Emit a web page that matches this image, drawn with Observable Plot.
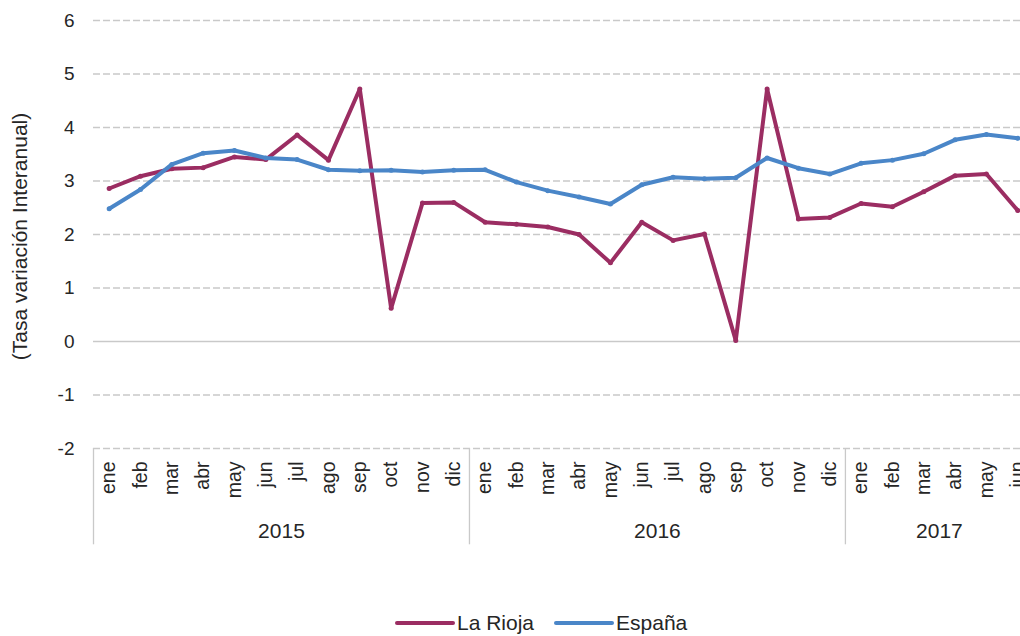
<!DOCTYPE html>
<html>
<head>
<meta charset="utf-8">
<script src="https://cdn.jsdelivr.net/npm/d3@7"></script>
<script src="https://cdn.jsdelivr.net/npm/@observablehq/plot@0.6"></script>
<style>
  html, body { margin: 0; padding: 0; background: #fff; width: 1020px; height: 636px; overflow: hidden; }
  #legend { display: flex; align-items: center; height: 36px; margin-left: 395px;
            font-family: "Liberation Sans", Arial, sans-serif; font-size: 21px; color: #262626; }
  .sw { display: inline-block; width: 60px; height: 4px; border-radius: 2px; margin-right: 2px; }
  .item { display: flex; align-items: center; margin-right: 20px; }
</style>
</head>
<body>
<div id="chart"></div>
<div id="legend"></div>
<script>
// ---- data ----
const monthNames = ["ene","feb","mar","abr","may","jun","jul","ago","sep","oct","nov","dic"];
const years = ["2015", "2016", "2017"];
const monthsPerYear = [12, 12, 6];
const laRioja = [2.86,3.09,3.23,3.25,3.45,3.40,3.86,3.39,4.72,0.62,2.59,2.60,
                 2.23,2.19,2.14,2.00,1.47,2.23,1.89,2.01,0.02,4.72,2.29,2.32,
                 2.58,2.52,2.80,3.10,3.13,2.45];
const espana  = [2.48,2.84,3.31,3.52,3.57,3.43,3.40,3.21,3.19,3.20,3.17,3.20,
                 3.21,2.98,2.82,2.70,2.57,2.93,3.07,3.04,3.06,3.43,3.24,3.13,
                 3.33,3.39,3.51,3.77,3.87,3.80];
const yTicks = [-2,-1,0,1,2,3,4,5,6];
const seriesNames = ["La Rioja", "España"];
const seriesColors = ["#9b2d62", "#4a86c8"];

// ---- build tables ----
const rows = [];
const yearGroups = [];
let idx = 0;
years.forEach((y, k) => {
  const start = idx;
  for (let m = 0; m < monthsPerYear[k]; m++) {
    rows.push({i: idx, month: monthNames[m], year: y, rioja: laRioja[idx], espana: espana[idx]});
    idx++;
  }
  yearGroups.push({year: y, start: start - 0.5, center: (start + idx - 1) / 2});
});
const n = rows.length;
const boundaries = yearGroups.map(g => g.start);
const axisFoot = -3.8; // bottom of category frame lines (below y domain)

const font = '"Liberation Sans", Arial, sans-serif';
const grid = yTicks.filter(t => t !== 0);

const plot = Plot.plot({
  width: 1020,
  height: 605,
  marginLeft: 93,
  marginRight: 0,
  marginTop: 20,
  marginBottom: 157,
  style: {fontFamily: font, fontSize: "19px", color: "#262626", background: "#fff"},
  x: {type: "linear", domain: [-0.5, n - 0.5], range: [93, 93 + 31.33 * n], axis: null},
  y: {domain: [-2, 6], axis: null},
  marks: [
    Plot.ruleY(grid, {stroke: "#c9c9c9", strokeWidth: 1.5, strokeDasharray: "7,3"}),
    Plot.ruleY([0], {stroke: "#c9c9c9", strokeWidth: 1.5}),
    Plot.ruleX(boundaries, {x: d => d, y1: -2, y2: axisFoot, stroke: "#c9c9c9", strokeWidth: 1.3}),
    Plot.axisY({ticks: yTicks, tickSize: 0, tickPadding: 19, label: null, fontSize: 19, tickFormat: d => String(d)}),
    Plot.text(["(Tasa variación Interanual)"], {frameAnchor: "left", textAnchor: "middle", rotate: -90, dx: -73, dy: 2, fontSize: 21, fill: "#262626"}),
    Plot.text(rows, {x: "i", y: () => -2, text: "month", rotate: -90, textAnchor: "end", dy: 13, fontSize: 19.5, fill: "#262626"}),
    Plot.text(yearGroups, {x: "center", y: () => -2, text: "year", dy: 83, fontSize: 21, fill: "#262626"}),
    Plot.line(rows, {x: "i", y: "rioja", stroke: seriesColors[0], strokeWidth: 4, strokeLinejoin: "round", strokeLinecap: "round"}),
    Plot.dot(rows, {x: "i", y: "rioja", r: 2.5, fill: seriesColors[0], stroke: "none"}),
    Plot.line(rows, {x: "i", y: "espana", stroke: seriesColors[1], strokeWidth: 4, strokeLinejoin: "round", strokeLinecap: "round"}),
    Plot.dot(rows, {x: "i", y: "espana", r: 2.5, fill: seriesColors[1], stroke: "none"})
  ]
});
document.getElementById("chart").appendChild(plot);

const legend = document.getElementById("legend");
seriesNames.forEach((s, k) => {
  const it = document.createElement("span");
  it.className = "item";
  const sw = document.createElement("span");
  sw.className = "sw";
  sw.style.background = seriesColors[k];
  it.appendChild(sw);
  it.appendChild(document.createTextNode(s));
  legend.appendChild(it);
});
</script>
</body>
</html>
